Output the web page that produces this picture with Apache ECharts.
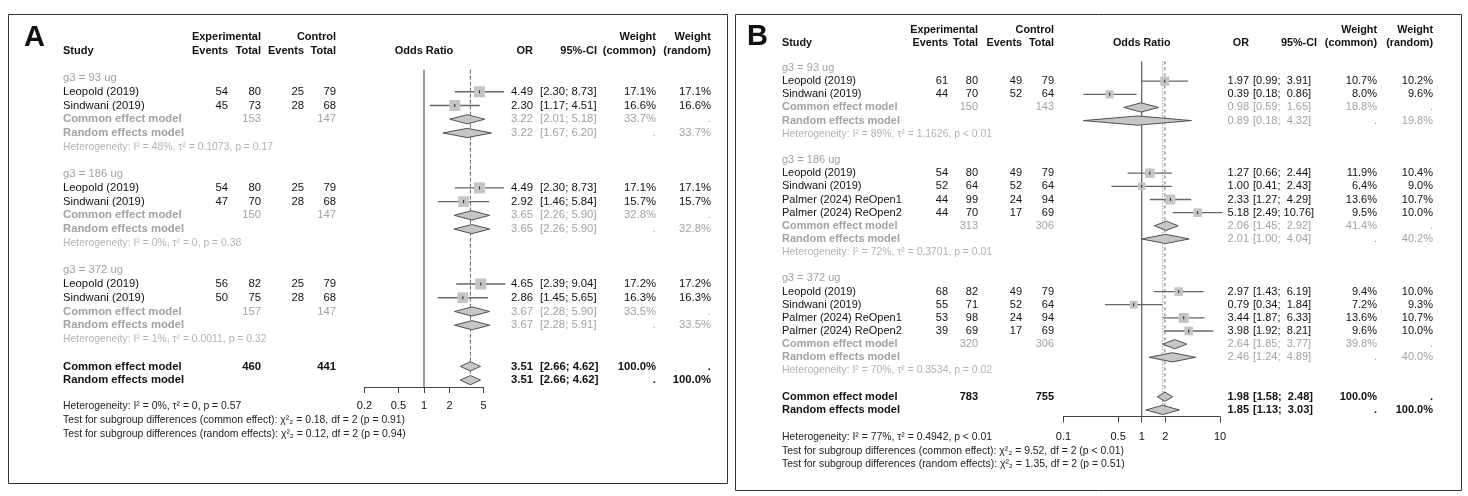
<!DOCTYPE html>
<html>
<head>
<meta charset="utf-8">
<script src="https://cdn.jsdelivr.net/npm/echarts@6/dist/echarts.min.js"></script>
<style>
html, body { margin: 0; padding: 0; background: #fff; }
#chart { width: 1468px; height: 496px; }
</style>
</head>
<body>
<div id="chart"></div>
<script>
// ---------- panel A ----------
const groupA = ['g3 = 93 ug', 'g3 = 186 ug', 'g3 = 372 ug']
const studyA = ['Leopold (2019)', 'Sindwani (2019)', 'Leopold (2019)', 'Sindwani (2019)', 'Leopold (2019)', 'Sindwani (2019)']
const studyGroupA = [0, 0, 1, 1, 2, 2]
const expEventsA = [54, 45, 54, 47, 56, 50]
const expTotalA = [80, 73, 80, 70, 82, 75]
const ctrlEventsA = [25, 28, 25, 28, 25, 28]
const ctrlTotalA = [79, 68, 79, 68, 79, 68]
const orA = [4.49, 2.30, 4.49, 2.92, 4.65, 2.86]
const loA = [2.30, 1.17, 2.30, 1.46, 2.39, 1.45]
const hiA = [8.73, 4.51, 8.73, 5.84, 9.04, 5.65]
const wCommonA = [17.1, 16.6, 17.1, 15.7, 17.2, 16.3]
const wRandomA = [17.1, 16.6, 17.1, 15.7, 17.2, 16.3]
const subExpTotalA = [153, 150, 157]
const subCtrlTotalA = [147, 147, 147]
const subComA = [3.22, 3.65, 3.67]
const subComLoA = [2.01, 2.26, 2.28]
const subComHiA = [5.18, 5.90, 5.90]
const subComWA = [33.7, 32.8, 33.5]
const subRanA = [3.22, 3.65, 3.67]
const subRanLoA = [1.67, 2.26, 2.28]
const subRanHiA = [6.20, 5.90, 5.91]
const subRanWA = [33.7, 32.8, 33.5]
const hetI2A = ['48%', '0%', '1%']
const hetTauA = ['0.1073', '0', '0.0011']
const hetPA = ['= 0.17', '= 0.38', '= 0.32']
const totalsA = [460, 441]
const overallA = [3.51, 3.51]      // common, random
const overallLoA = [2.66, 2.66]
const overallHiA = [4.62, 4.62]
const overallHetA = ['0%', '0', '= 0.57']
const testChiA = ['0.18', '0.12']
const testPA = ['= 0.91', '= 0.94']
const ticksA = [0.2, 0.5, 1, 2, 5]

// ---------- panel B ----------
const groupB = ['g3 = 93 ug', 'g3 = 186 ug', 'g3 = 372 ug']
const studyB = ['Leopold (2019)', 'Sindwani (2019)',
  'Leopold (2019)', 'Sindwani (2019)', 'Palmer (2024) ReOpen1', 'Palmer (2024) ReOpen2',
  'Leopold (2019)', 'Sindwani (2019)', 'Palmer (2024) ReOpen1', 'Palmer (2024) ReOpen2']
const studyGroupB = [0, 0, 1, 1, 1, 1, 2, 2, 2, 2]
const expEventsB = [61, 44, 54, 52, 44, 44, 68, 55, 53, 39]
const expTotalB = [80, 70, 80, 64, 99, 70, 82, 71, 98, 69]
const ctrlEventsB = [49, 52, 49, 52, 24, 17, 49, 52, 24, 17]
const ctrlTotalB = [79, 64, 79, 64, 94, 69, 79, 64, 94, 69]
const orB = [1.97, 0.39, 1.27, 1.00, 2.33, 5.18, 2.97, 0.79, 3.44, 3.98]
const loB = [0.99, 0.18, 0.66, 0.41, 1.27, 2.49, 1.43, 0.34, 1.87, 1.92]
const hiB = [3.91, 0.86, 2.44, 2.43, 4.29, 10.76, 6.19, 1.84, 6.33, 8.21]
const wCommonB = [10.7, 8.0, 11.9, 6.4, 13.6, 9.5, 9.4, 7.2, 13.6, 9.6]
const wRandomB = [10.2, 9.6, 10.4, 9.0, 10.7, 10.0, 10.0, 9.3, 10.7, 10.0]
const subExpTotalB = [150, 313, 320]
const subCtrlTotalB = [143, 306, 306]
const subComB = [0.98, 2.06, 2.64]
const subComLoB = [0.59, 1.45, 1.85]
const subComHiB = [1.65, 2.92, 3.77]
const subComWB = [18.8, 41.4, 39.8]
const subRanB = [0.89, 2.01, 2.46]
const subRanLoB = [0.18, 1.00, 1.24]
const subRanHiB = [4.32, 4.04, 4.89]
const subRanWB = [19.8, 40.2, 40.0]
const hetI2B = ['89%', '72%', '70%']
const hetTauB = ['1.1626', '0.3701', '0.3534']
const hetPB = ['< 0.01', '= 0.01', '= 0.02']
const totalsB = [783, 755]
const overallB = [1.98, 1.85]
const overallLoB = [1.58, 1.13]
const overallHiB = [2.48, 3.03]
const overallHetB = ['77%', '0.4942', '< 0.01']
const testChiB = ['9.52', '1.35']
const testPB = ['< 0.01', '= 0.51']
const ticksB = [0.1, 0.5, 1, 2, 10]

const FONT = '"Liberation Sans", Arial, Helvetica, sans-serif'
const BLACK = '#111'
const GREY = '#a2a2a2'
const HETGREY = '#b3b3b3'

// build the row table for one panel
function buildRows(d) {
  const rows = []
  let r = 0
  d.groups.forEach((g, gi) => {
    rows.push({ kind: 'group', row: r++, label: g })
    d.study.forEach((s, i) => {
      if (d.studyGroup[i] !== gi) return
      rows.push({ kind: 'study', row: r++, label: s, ee: d.expEv[i], et: d.expTot[i], ce: d.ctlEv[i], ct: d.ctlTot[i],
        or: d.or[i], lo: d.lo[i], hi: d.hi[i], wc: d.wCom[i], wr: d.wRan[i] })
    })
    rows.push({ kind: 'common', row: r++, label: 'Common effect model', et: d.subExpTot[gi], ct: d.subCtlTot[gi],
      or: d.subCom[gi], lo: d.subComLo[gi], hi: d.subComHi[gi], wc: d.subComW[gi], wr: null })
    rows.push({ kind: 'random', row: r++, label: 'Random effects model',
      or: d.subRan[gi], lo: d.subRanLo[gi], hi: d.subRanHi[gi], wc: null, wr: d.subRanW[gi] })
    rows.push({ kind: 'het', row: r++, label: 'Heterogeneity: {it|I}² = ' + d.hetI2[gi] + ', τ² = ' + d.hetTau[gi] + ', {it|p} ' + d.hetP[gi] })
    r++
  })
  rows.push({ kind: 'totalCommon', row: r++, label: 'Common effect model', et: d.totals[0], ct: d.totals[1],
    or: d.overall[0], lo: d.overallLo[0], hi: d.overallHi[0], wc: 100, wr: null })
  rows.push({ kind: 'totalRandom', row: r++, label: 'Random effects model',
    or: d.overall[1], lo: d.overallLo[1], hi: d.overallHi[1], wc: null, wr: 100 })
  rows.push({ kind: 'hdr1', row: d.hdrRows[0] })
  rows.push({ kind: 'hdr2', row: d.hdrRows[1] })
  const oh = d.overallHet
  rows.push({ kind: 'foot', row: d.footRows[0], label: 'Heterogeneity: {it|I}² = ' + oh[0] + ', τ² = ' + oh[1] + ', {it|p} ' + oh[2] })
  rows.push({ kind: 'foot', row: d.footRows[1], label: 'Test for subgroup differences (common effect): χ²₂ = ' + d.testChi[0] + ', df = 2 ({it|p} ' + d.testP[0] + ')' })
  rows.push({ kind: 'foot', row: d.footRows[2], label: 'Test for subgroup differences (random effects): χ²₂ = ' + d.testChi[1] + ', df = 2 ({it|p} ' + d.testP[1] + ')' })
  return rows
}

const panels = [
  {
    grid: { left: 364.5, top: 69.8, width: 119, height: 317.2 },
    xMin: 0.2, xMax: 5, yMin: -0.6, yMax: 22.5, lineEnd: 22.3, ticks: ticksA, labelMargin: 13,
    cols: { study: 63, ee: 228, et: 261, ce: 304, ct: 336, or: 533, ci: 540, ciHdr: 597, wc: 656, wr: 711 },
    fs: 11.3, hdrFs: 11, hetFs: 10.4, sqMax: 11, wide: false,
    data: {
      groups: groupA, study: studyA, studyGroup: studyGroupA, expEv: expEventsA, expTot: expTotalA,
      ctlEv: ctrlEventsA, ctlTot: ctrlTotalA, or: orA, lo: loA, hi: hiA, wCom: wCommonA, wRan: wRandomA,
      subExpTot: subExpTotalA, subCtlTot: subCtrlTotalA, subCom: subComA, subComLo: subComLoA, subComHi: subComHiA,
      subComW: subComWA, subRan: subRanA, subRanLo: subRanLoA, subRanHi: subRanHiA, subRanW: subRanWA,
      hetI2: hetI2A, hetTau: hetTauA, hetP: hetPA, totals: totalsA, overall: overallA, overallLo: overallLoA,
      overallHi: overallHiA, overallHet: overallHetA, testChi: testChiA, testP: testPA,
      hdrRows: [-3, -2], footRows: [23.9, 24.9, 25.9]
    }
  },
  {
    grid: { left: 1063.4, top: 61.4, width: 156.6, height: 355.1 },
    xMin: 0.1, xMax: 10, yMin: -0.5, yMax: 26.5, lineEnd: 26.3, ticks: ticksB, labelMargin: 15,
    cols: { study: 782, ee: 948, et: 978, ce: 1022, ct: 1054, or: 1249, ci: 1253, ciHdr: 1317, wc: 1377, wr: 1433 },
    fs: 11, hdrFs: 10.8, hetFs: 10.4, sqMax: 10, wide: true,
    data: {
      groups: groupB, study: studyB, studyGroup: studyGroupB, expEv: expEventsB, expTot: expTotalB,
      ctlEv: ctrlEventsB, ctlTot: ctrlTotalB, or: orB, lo: loB, hi: hiB, wCom: wCommonB, wRan: wRandomB,
      subExpTot: subExpTotalB, subCtlTot: subCtrlTotalB, subCom: subComB, subComLo: subComLoB, subComHi: subComHiB,
      subComW: subComWB, subRan: subRanB, subRanLo: subRanLoB, subRanHi: subRanHiB, subRanW: subRanWB,
      hetI2: hetI2B, hetTau: hetTauB, hetP: hetPB, totals: totalsB, overall: overallB, overallLo: overallLoB,
      overallHi: overallHiB, overallHet: overallHetB, testChi: testChiB, testP: testPB,
      hdrRows: [-2.9, -1.87], footRows: [28.1, 29.15, 30.15]
    }
  }
]

const pct = w => (w == null ? '.' : w.toFixed(1) + '%')
const ciText = (lo, hi, wide) => '[' + lo.toFixed(2) + ';' + (wide && hi < 10 ? '  ' : ' ') + hi.toFixed(2) + ']'

function makeRender(p, rows) {
  const wMax = Math.max(...p.data.wCom)
  return function (params, api) {
    const r = rows[params.dataIndex]
    const c = p.cols
    const y = api.coord([0, r.row])[1]
    const X = v => api.coord([Math.log10(v), r.row])[0]
    const kids = []
    const t = (x, text, o) => kids.push({
      type: 'text', x: x, y: y, silent: true,
      style: Object.assign({ text: String(text), fill: BLACK, fontSize: p.fs, fontFamily: FONT,
        align: 'right', verticalAlign: 'middle' }, o || {})
    })
    const diamond = () => kids.push({
      type: 'polygon', z2: 5,
      shape: { points: [[X(r.lo), y], [X(r.or), y - 4.6], [X(r.hi), y], [X(r.or), y + 4.6]] },
      style: { fill: '#c6c6c6', stroke: '#505050', lineWidth: 1 }
    })
    const rich = { it: { fontStyle: 'italic' } }

    if (r.kind === 'hdr1') {
      const b = { fontWeight: 'bold', fontSize: p.hdrFs }
      t(c.et, 'Experimental', b); t(c.ct, 'Control', b); t(c.wc, 'Weight', b); t(c.wr, 'Weight', b)
    } else if (r.kind === 'hdr2') {
      const b = { fontWeight: 'bold', fontSize: p.hdrFs }
      t(c.study, 'Study', Object.assign({ align: 'left' }, b))
      t(c.ee, 'Events', b); t(c.et, 'Total', b); t(c.ce, 'Events', b); t(c.ct, 'Total', b)
      t(X(Math.sqrt(p.xMin * p.xMax)), 'Odds Ratio', Object.assign({ align: 'center' }, b))
      t(c.or, 'OR', b); t(c.ciHdr, '95%-CI', b); t(c.wc, '(common)', b); t(c.wr, '(random)', b)
    } else if (r.kind === 'group') {
      t(c.study, r.label, { align: 'left', fill: GREY })
    } else if (r.kind === 'study') {
      t(c.study, r.label, { align: 'left' })
      t(c.ee, r.ee); t(c.et, r.et); t(c.ce, r.ce); t(c.ct, r.ct)
      t(c.or, r.or.toFixed(2)); t(c.ci, ciText(r.lo, r.hi, p.wide), { align: 'left' })
      t(c.wc, pct(r.wc)); t(c.wr, pct(r.wr))
      const s = p.sqMax * Math.pow(r.wc / wMax, 0.4)
      const cx = X(r.or)
      kids.push({ type: 'line', shape: { x1: X(r.lo), y1: y, x2: X(r.hi), y2: y }, style: { stroke: '#666', lineWidth: 1.3 } })
      kids.push({ type: 'rect', shape: { x: cx - s / 2, y: y - s / 2, width: s, height: s }, style: { fill: '#c4c4c4' } })
      kids.push({ type: 'line', shape: { x1: cx, y1: y - 1.5, x2: cx, y2: y + 1.5 }, style: { stroke: '#222', lineWidth: 1 } })
    } else if (r.kind === 'common' || r.kind === 'random') {
      const g = { fill: GREY }
      t(c.study, r.label, { align: 'left', fill: GREY, fontWeight: 'bold' })
      if (r.et != null) { t(c.et, r.et, g); t(c.ct, r.ct, g) }
      t(c.or, r.or.toFixed(2), g); t(c.ci, ciText(r.lo, r.hi, p.wide), { align: 'left', fill: GREY })
      t(c.wc, pct(r.wc), g); t(c.wr, pct(r.wr), g)
      diamond()
    } else if (r.kind === 'het') {
      t(c.study, r.label, { align: 'left', fill: HETGREY, fontSize: p.hetFs, rich: rich })
    } else if (r.kind === 'totalCommon' || r.kind === 'totalRandom') {
      const b = { fontWeight: 'bold' }
      t(c.study, r.label, { align: 'left', fontWeight: 'bold' })
      if (r.et != null) { t(c.et, r.et, b); t(c.ct, r.ct, b) }
      t(c.or, r.or.toFixed(2), b); t(c.ci, ciText(r.lo, r.hi, p.wide), { align: 'left', fontWeight: 'bold' })
      t(c.wc, pct(r.wc), b); t(c.wr, pct(r.wr), b)
      diamond()
    } else if (r.kind === 'foot') {
      t(c.study, r.label, { align: 'left', fill: '#222', fontSize: p.hetFs, rich: rich })
    }
    return { type: 'group', children: kids }
  }
}

const refStyles = [
  { stroke: '#666', lineWidth: 1.3 },
  { stroke: '#666', lineWidth: 1, lineDash: [3, 3] },
  { stroke: '#666', lineWidth: 1, lineDash: [1, 2] }
]

const grids = [], xAxes = [], yAxes = [], series = []
panels.forEach((p, i) => {
  grids.push(Object.assign({ containLabel: false, outerBoundsMode: 'none' }, p.grid))
  const tv = p.ticks.map(Math.log10)
  xAxes.push({
    type: 'value', gridIndex: i, min: Math.log10(p.xMin), max: Math.log10(p.xMax),
    axisLine: { show: true, onZero: false, lineStyle: { color: '#444', width: 1 } },
    axisTick: { show: true, length: 6, customValues: tv, lineStyle: { color: '#444' } },
    axisLabel: {
      customValues: tv, color: BLACK, fontSize: 11, fontFamily: FONT, margin: p.labelMargin,
      formatter: v => String(Number(Math.pow(10, v).toPrecision(2)))
    },
    splitLine: { show: false }
  })
  yAxes.push({ type: 'value', gridIndex: i, inverse: true, min: p.yMin, max: p.yMax, show: false })

  const refVals = [1, p.data.overall[0], p.data.overall[1]]
  series.push({
    type: 'custom', xAxisIndex: i, yAxisIndex: i, clip: false, silent: true, z: 1,
    data: refVals.map(v => [Math.log10(v)]),
    renderItem: (params, api) => {
      const x = api.coord([api.value(0), 0])[0]
      const y1 = api.coord([0, p.yMin])[1]
      const y2 = api.coord([0, params.dataIndex === 0 ? p.yMax : p.lineEnd])[1]
      return { type: 'line', shape: { x1: x, y1: y1, x2: x, y2: y2 }, style: refStyles[params.dataIndex] }
    }
  })

  const rows = buildRows(p.data)
  series.push({
    type: 'custom', xAxisIndex: i, yAxisIndex: i, clip: false, silent: true, z: 2,
    data: rows.map(r => [0, r.row]),
    renderItem: makeRender(p, rows)
  })
})

const chart = echarts.init(document.getElementById('chart'), null, { renderer: 'canvas' })
chart.setOption({
  animation: false,
  backgroundColor: '#fff',
  grid: grids,
  xAxis: xAxes,
  yAxis: yAxes,
  series: series,
  graphic: [
    { type: 'rect', shape: { x: 8.5, y: 14.5, width: 719, height: 469 }, style: { fill: 'none', stroke: '#333', lineWidth: 1 } },
    { type: 'rect', shape: { x: 735.5, y: 14.5, width: 726, height: 476 }, style: { fill: 'none', stroke: '#333', lineWidth: 1 } },
    { type: 'text', x: 24, y: 38, style: { text: 'A', fontSize: 29, fontWeight: 'bold', fontFamily: FONT, fill: '#111', verticalAlign: 'middle' } },
    { type: 'text', x: 747, y: 37, style: { text: 'B', fontSize: 29, fontWeight: 'bold', fontFamily: FONT, fill: '#111', verticalAlign: 'middle' } }
  ]
})
</script>
</body>
</html>
